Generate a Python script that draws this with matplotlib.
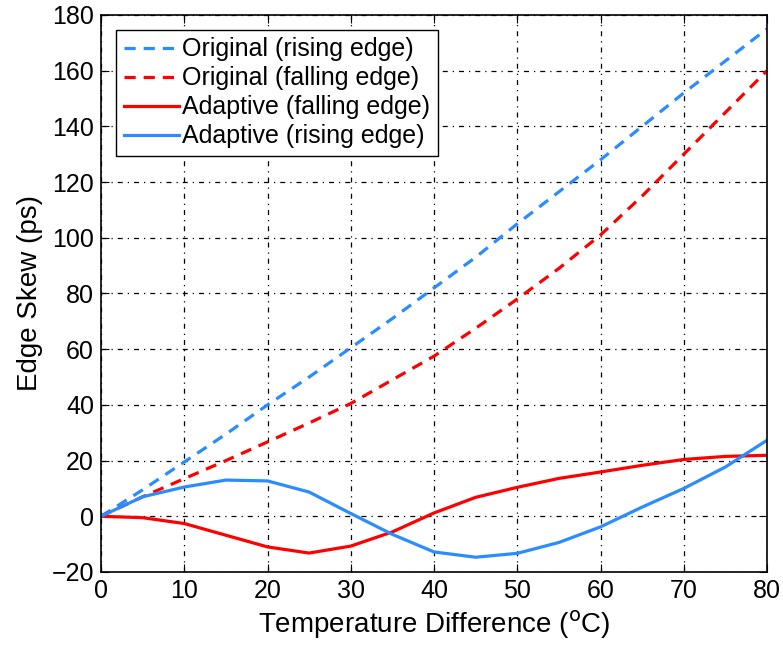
import matplotlib
matplotlib.use('Agg')
import matplotlib.pyplot as plt
import numpy as np

plt.rcParams['font.family'] = ['Liberation Sans', 'DejaVu Sans']

temp = [0, 5, 10, 15, 20, 25, 30, 35, 40, 45, 50, 55, 60, 65, 70, 75, 80]
orig_rise = [0, 9.5, 19.5, 29.5, 40, 50, 60.5, 71, 82, 93, 105, 116.5, 128, 140, 152, 163.5, 175]
orig_fall = [0, 7, 13.5, 20, 26.7, 33.5, 40.5, 49, 57.5, 67.5, 78, 89, 101, 115, 130, 145, 160]
adapt_fall = [0, -0.5, -2.6, -6.8, -11, -13.2, -10.7, -5.6, 1.2, 6.8, 10.4, 13.6, 15.9, 18.3, 20.4, 21.5, 21.9]
adapt_rise = [0, 7, 10.5, 13, 12.7, 8.7, 1, -6.5, -12.8, -14.7, -13.3, -9.4, -3.8, 3.3, 10, 17.7, 27.3]

blue = '#2b8cff'
red = '#ff0000'

fig = plt.figure(figsize=(7.83, 6.48), dpi=100)
ax = fig.add_axes([0.129, 0.1173, 0.8506, 0.8596])

ax.plot(temp, orig_rise, '--', color=blue, lw=2.3, dashes=(3.5, 2.5), label='Original (rising edge)')
ax.plot(temp, orig_fall, '--', color=red, lw=2.3, dashes=(3.5, 2.5), label='Original (falling edge)')
ax.plot(temp, adapt_fall, '-', color=red, lw=2.3, label='Adaptive (falling edge)')
ax.plot(temp, adapt_rise, '-', color=blue, lw=2.3, label='Adaptive (rising edge)')

ax.set_xlim(0, 80)
ax.set_ylim(-20, 180)
ax.set_xticks(np.arange(0, 81, 10))
ax.set_yticks(np.arange(-20, 181, 20))
ax.grid(True, color='black', lw=0.9, linestyle=(0, (4, 4, 1, 4)))
ax.tick_params(direction='in', top=True, right=True, labelsize=18, length=6, pad=5)
for s in ax.spines.values():
    s.set_linewidth(1.2)

ax.set_xlabel('Temperature Difference ($^{\\mathrm{o}}$C)', fontsize=20, labelpad=4)
ax.set_ylabel('Edge Skew (ps)', fontsize=20, labelpad=6)

leg = ax.legend(loc='upper left', fontsize=18, fancybox=False, framealpha=1,
                edgecolor='black', handlelength=2.2, handletextpad=0.15,
                labelspacing=0.2, borderpad=0.3, borderaxespad=0.6)
leg.get_frame().set_linewidth(1.0)

fig.savefig('out.png', dpi=100)
